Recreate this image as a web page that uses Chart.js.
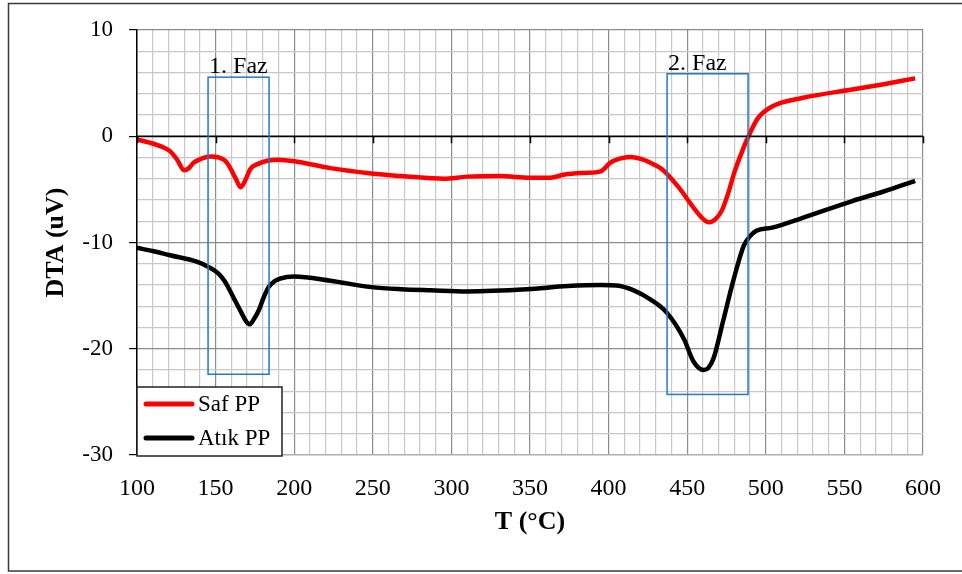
<!DOCTYPE html>
<html>
<head>
<meta charset="utf-8">
<script src="https://cdn.jsdelivr.net/npm/chart.js@4"></script>
<style>
  html, body { margin: 0; padding: 0; background: #fff; }
  #wrap { width: 962px; height: 574px; }
</style>
</head>
<body>
<div id="wrap"><canvas id="dtaChart" width="962" height="574"></canvas></div>
<script>
// Saf PP (red)
const safT = [100, 108, 116, 121, 125.5, 130, 133, 136, 141, 147, 152, 156, 159, 162.5, 166, 169, 172, 177, 183, 190,
  202, 223, 249, 268, 287, 295, 310, 331, 350, 363, 372, 385, 395, 401, 407, 414, 422, 428, 434, 444,
  455, 461, 464, 468, 472, 476, 480, 485, 489, 495, 504, 523, 555, 575, 595];
const safDTA = [-0.3, -0.6, -1.0, -1.4, -2.2, -3.2, -3.0, -2.5, -2.1, -1.9, -2.0, -2.3, -2.9, -3.9, -4.8, -4.1, -3.1, -2.6, -2.3, -2.2,
  -2.4, -3.0, -3.5, -3.75, -3.95, -4.0, -3.8, -3.75, -3.9, -3.9, -3.6, -3.45, -3.3, -2.5, -2.1, -1.95, -2.2, -2.6, -3.1, -4.7,
  -6.9, -7.9, -8.1, -7.8, -7.0, -5.4, -3.4, -1.4, 0.0, 1.7, 2.8, 3.6, 4.4, 4.9, 5.45];

// Atık PP (black)
const atikT = [100, 110, 121, 138, 145.5, 150, 153, 156, 159, 162.5, 165.7, 168.5, 171.6, 174, 177.4, 180.5, 183.7, 187, 191, 200,
  223, 249, 268, 287, 310, 348, 374, 395, 405, 416, 427, 437, 448, 454, 460.5, 463.5, 467, 473, 479.5, 486,
  490, 494, 504, 523, 555, 575, 595];
const atikDTA = [-10.5, -10.8, -11.2, -11.8, -12.3, -12.7, -13.1, -13.7, -14.5, -15.5, -16.4, -17.2, -17.7, -17.3, -16.4, -15.2, -14.2, -13.7, -13.4, -13.2,
  -13.6, -14.2, -14.4, -14.5, -14.6, -14.4, -14.1, -14.0, -14.05, -14.5, -15.4, -16.6, -19.1, -21.2, -22.0, -21.8, -20.8, -17.3, -13.5, -10.3,
  -9.4, -8.9, -8.6, -7.7, -6.1, -5.2, -4.2];

const seriesNames = ['Saf PP', 'Atık PP'];
const seriesColors = ['#ff0000', '#000000'];

// phase boxes (data units)
const phaseLabels = ['1. Faz', '2. Faz'];
const phaseFrom = [145.2, 437.2];
const phaseTo = [184, 488.7];
const phaseTop = [5.56, 5.88];
const phaseBottom = [-22.4, -24.3];

const xMin = 100, xMax = 600, xStep = 10, xLabelStep = 50;
const yMin = -30, yMax = 10, yStep = 2, yLabelStep = 10;

const serif = "'Liberation Serif', 'Times New Roman', serif";

function toPoints(xs, ys) {
  return xs.map((x, i) => ({ x: x, y: ys[i] }));
}

// x axis line through y = 0 with ticks, phase boxes, legend, outer frame
const extras = {
  id: 'extras',
  afterDatasetsDraw(chart) {
    const ctx = chart.ctx;
    const xs = chart.scales.x, ys = chart.scales.y;
    const area = chart.chartArea;

    // axis line at zero
    const y0 = ys.getPixelForValue(0);
    ctx.save();
    ctx.strokeStyle = '#000';
    ctx.lineWidth = 1.5;
    ctx.beginPath();
    ctx.moveTo(area.left, y0);
    ctx.lineTo(area.right, y0);
    for (let v = xMin; v <= xMax; v += xLabelStep) {
      const px = Math.round(xs.getPixelForValue(v)) + 0.5;
      ctx.moveTo(px, y0);
      ctx.lineTo(px, y0 + 7);
    }
    ctx.stroke();

    // phase boxes
    ctx.strokeStyle = '#1f7ac8';
    ctx.lineWidth = 1.5;
    ctx.fillStyle = '#000';
    ctx.font = '24px ' + serif;
    ctx.textBaseline = 'alphabetic';
    ctx.textAlign = 'left';
    phaseLabels.forEach((lab, i) => {
      const l = xs.getPixelForValue(phaseFrom[i]);
      const r = xs.getPixelForValue(phaseTo[i]);
      const t = ys.getPixelForValue(phaseTop[i]);
      const b = ys.getPixelForValue(phaseBottom[i]);
      ctx.strokeRect(l, t, r - l, b - t);
      ctx.fillText(lab, l + 1, t - 4);
    });

    // legend box
    const lx = area.left, ly = 387, lw = 145, lh = 69;
    ctx.fillStyle = '#fff';
    ctx.fillRect(lx, ly, lw, lh);
    ctx.strokeStyle = '#222';
    ctx.lineWidth = 1.5;
    ctx.strokeRect(lx, ly, lw, lh);
    ctx.font = '23px ' + serif;
    ctx.textBaseline = 'middle';
    chart.data.datasets.forEach((ds, i) => {
      const yy = ly + 17 + i * 34;
      ctx.strokeStyle = ds.borderColor;
      ctx.lineWidth = 5;
      ctx.lineCap = 'round';
      ctx.beginPath();
      ctx.moveTo(lx + 9, yy);
      ctx.lineTo(lx + 55, yy);
      ctx.stroke();
      ctx.fillStyle = '#000';
      ctx.fillText(ds.label, lx + 61, yy + 1);
    });
    ctx.restore();
  },
  afterDraw(chart) {
    const ctx = chart.ctx;
    ctx.save();
    ctx.strokeStyle = '#3a3a3a';
    ctx.lineWidth = 1.5;
    ctx.strokeRect(8.5, 3.5, 980, 567.5);
    ctx.restore();
  }
};

new Chart(document.getElementById('dtaChart'), {
  type: 'line',
  data: {
    datasets: [
      {
        label: seriesNames[0],
        data: toPoints(safT, safDTA),
        borderColor: seriesColors[0],
        borderWidth: 4.5,
        pointRadius: 0,
        cubicInterpolationMode: 'monotone',
        fill: false
      },
      {
        label: seriesNames[1],
        data: toPoints(atikT, atikDTA),
        borderColor: seriesColors[1],
        borderWidth: 4.5,
        pointRadius: 0,
        cubicInterpolationMode: 'monotone',
        fill: false
      }
    ]
  },
  options: {
    responsive: false,
    animation: false,
    layout: { padding: { left: 8, top: 30, right: 39, bottom: 0 } },
    plugins: {
      legend: { display: false },
      tooltip: { enabled: false }
    },
    scales: {
      x: {
        type: 'linear',
        min: xMin,
        max: xMax,
        afterFit: (scale) => { scale.height = 119; },
        ticks: {
          stepSize: xStep,
          maxTicksLimit: 100,
          autoSkip: false,
          maxRotation: 0,
          minRotation: 0,
          padding: 19,
          color: '#000',
          font: { family: serif, size: 24 },
          callback: (v) => (v % xLabelStep === 0 ? v : '')
        },
        grid: {
          drawTicks: false,
          color: (c) => (c.tick && c.tick.value % xLabelStep === 0 ? '#8c8c8c' : '#c8c8c8'),
          lineWidth: 1.2
        },
        border: { color: '#b0b0b0', width: 1.2 },
        title: {
          display: true,
          text: 'T (°C)',
          color: '#000',
          font: { family: serif, size: 26, weight: 'bold' },
          padding: { top: 0, bottom: 36 }
        }
      },
      y: {
        min: yMin,
        max: yMax,
        afterFit: (scale) => { scale.width = 129; },
        ticks: {
          stepSize: yStep,
          maxTicksLimit: 100,
          autoSkip: false,
          padding: 16,
          color: '#000',
          font: { family: serif, size: 23 },
          callback: (v) => (v % yLabelStep === 0 ? v : '')
        },
        grid: {
          tickLength: 8,
          tickColor: (c) => (c.tick && c.tick.value % yLabelStep === 0 ? '#000' : 'rgba(0,0,0,0)'),
          color: (c) => {
            if (!c.tick) return '#c8c8c8';
            if (c.tick.value === 0) return '#000';
            return c.tick.value % yLabelStep === 0 ? '#8c8c8c' : '#c8c8c8';
          },
          lineWidth: 1.2
        },
        border: { color: '#000', width: 1.5 },
        title: {
          display: true,
          text: 'DTA (uV)',
          color: '#000',
          font: { family: serif, size: 26, weight: 'bold' },
          padding: { top: 33, bottom: 0 }
        }
      }
    }
  },
  plugins: [extras]
});
</script>
</body>
</html>
